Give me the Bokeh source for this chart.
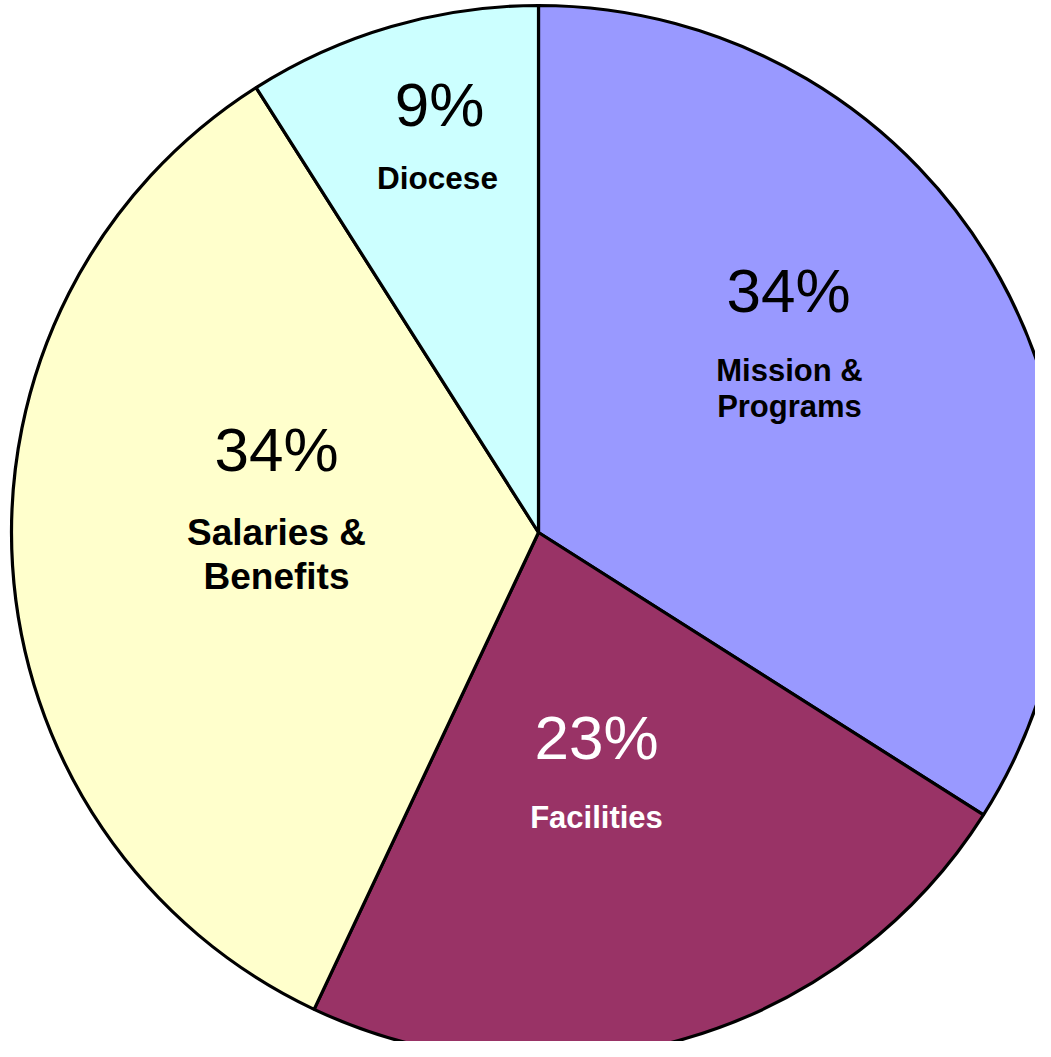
import numpy as np
from bokeh.plotting import figure
from bokeh.models import ColumnDataSource, Range1d
from bokeh.embed import file_html
from bokeh.resources import INLINE
from bokeh.core.properties import value

# ---- data ----
categories = ["Mission & Programs", "Facilities", "Salaries & Benefits", "Diocese"]
label_lines = ["Mission &\nPrograms", "Facilities", "Salaries &\nBenefits", "Diocese"]
shares = [34, 23, 34, 9]
pct_labels = ["34%", "23%", "34%", "9%"]

# ---- style / layout ----
colors = ["#9999FF", "#993366", "#FFFFCC", "#CCFFFF"]
text_colors = ["black", "white", "black", "black"]
label_sizes = ["31px", "31px", "37px", "31.5px"]
label_line_heights = [1.04, 1.0, 1.065, 1.0]

W, H = 1035, 1041
cx_s, cy_s, R = 538, 532, 527   # pie centre in screen pixels, radius in pixels


def to_data(sx, sy):
    return sx, H - sy


# screen-space label anchors (layout)
pct_pos = [(788, 290), (596, 737), (276, 449), (439, 104)]
lab_pos = [(789, 388), (596, 817), (276, 554), (437, 177)]

frac = np.array(shares, dtype=float) / sum(shares)
cum = np.concatenate([[0.0], np.cumsum(frac)])
start = np.pi / 2 - 2 * np.pi * cum[1:]
end = np.pi / 2 - 2 * np.pi * cum[:-1]

cx, cy = to_data(cx_s, cy_s)
wsrc = ColumnDataSource(dict(cat=categories, start=start, end=end, color=colors))

px, py = zip(*[to_data(*p) for p in pct_pos])
lx, ly = zip(*[to_data(*p) for p in lab_pos])
psrc = ColumnDataSource(dict(x=px, y=py, text=pct_labels, color=text_colors))
lsrc = ColumnDataSource(dict(x=lx, y=ly, text=label_lines, color=text_colors,
                             size=label_sizes, lh=label_line_heights))

p = figure(width=W, height=H, output_backend="svg", toolbar_location=None,
           x_range=Range1d(0, W), y_range=Range1d(0, H), min_border=0)
p.axis.visible = False
p.grid.visible = False
p.outline_line_color = None
p.background_fill_color = "white"

p.wedge(x=cx, y=cy, radius=R, start_angle="start", end_angle="end",
        direction="anticlock", fill_color="color", line_color="black",
        line_width=3.2, source=wsrc)

p.text(x="x", y="y", text="text", source=psrc, text_color="color",
       text_font=value("Liberation Sans"), text_font_size="62px",
       text_align="center", text_baseline="middle")
p.text(x="x", y="y", text="text", source=lsrc, text_color="color",
       text_font=value("Liberation Sans"), text_font_size="size",
       text_font_style="bold", text_align="center", text_baseline="middle",
       text_line_height="lh")

open("out.html", "w").write(file_html(p, INLINE))
